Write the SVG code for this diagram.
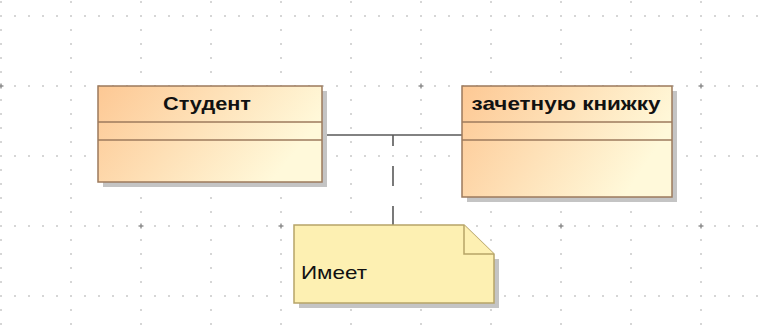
<svg xmlns="http://www.w3.org/2000/svg" width="760" height="336" viewBox="0 0 760 336">
  <defs>
    <!-- dotted drawing grid: 70px cells, dots every 14px along the cell edges -->
    <pattern id="grid" x="0" y="15" width="70" height="70" patternUnits="userSpaceOnUse">
      <g fill="#ababab">
        <rect x="0.3" y="0.3" width="1.4" height="1.4"/>
        <rect x="14.3" y="0.3" width="1.4" height="1.4"/>
        <rect x="28.3" y="0.3" width="1.4" height="1.4"/>
        <rect x="42.3" y="0.3" width="1.4" height="1.4"/>
        <rect x="56.3" y="0.3" width="1.4" height="1.4"/>
        <rect x="0.3" y="14.3" width="1.4" height="1.4"/>
        <rect x="0.3" y="28.3" width="1.4" height="1.4"/>
        <rect x="0.3" y="42.3" width="1.4" height="1.4"/>
        <rect x="0.3" y="56.3" width="1.4" height="1.4"/>
      </g>
    </pattern>
    <linearGradient id="classFill" x1="0" y1="0" x2="1" y2="0.35">
      <stop offset="0" stop-color="#fdc894"/>
      <stop offset="1" stop-color="#fff9da"/>
    </linearGradient>
    <g id="plus" fill="#8c8c8c">
      <rect x="-2.5" y="-0.7" width="5" height="1.4"/>
      <rect x="-0.7" y="-2.5" width="1.4" height="5"/>
    </g>
  </defs>
  <style>
    .shadow { fill: #c4c4c4; }
    .cls { fill: url(#classFill); stroke: #9c7a5c; stroke-width: 1.5; }
    .sep { stroke: #9c7a5c; stroke-width: 1.5; fill: none; }
    .title { font-family: "Liberation Sans", Arial, sans-serif; font-weight: bold; font-size: 18.5px; fill: #111; text-anchor: middle; }
    .note { fill: #fdf0b2; stroke: #b6a468; stroke-width: 1.5; }
    .noteText { font-family: "Liberation Sans", Arial, sans-serif; font-size: 18.5px; fill: #111; }
    .assoc { stroke: #595959; stroke-width: 1.3; fill: none; }
    .anchor { stroke: #595959; stroke-width: 1.6; fill: none; stroke-dasharray: 20 20; }
  </style>

  <rect width="760" height="336" fill="#ffffff"/>
  <rect width="760" height="336" fill="url(#grid)"/>
  <g id="grid-marks">
    <use href="#plus" x="1" y="86"/>
    <use href="#plus" x="421" y="86"/>
    <use href="#plus" x="701" y="86"/>
    <use href="#plus" x="141" y="226"/>
    <use href="#plus" x="281" y="226"/>
    <use href="#plus" x="561" y="226"/>
    <use href="#plus" x="701" y="226"/>
  </g>

  <g id="connectors">
    <line class="assoc" x1="322" y1="135" x2="462" y2="135"/>
    <line class="anchor" x1="393" y1="226" x2="393" y2="135"/>
  </g>

  <g id="student">
    <rect class="shadow" x="103" y="91" width="224" height="96"/>
    <rect class="cls" x="98" y="86" width="224" height="96"/>
    <line class="sep" x1="98" y1="122" x2="322" y2="122"/>
    <line class="sep" x1="98" y1="140" x2="322" y2="140"/>
    <text class="title" x="207" y="110" textLength="88" lengthAdjust="spacingAndGlyphs">Студент</text>
  </g>

  <g id="record-book">
    <rect class="shadow" x="467" y="91" width="210" height="111"/>
    <rect class="cls" x="462" y="86" width="210" height="111"/>
    <line class="sep" x1="462" y1="122" x2="672" y2="122"/>
    <line class="sep" x1="462" y1="140" x2="672" y2="140"/>
    <text class="title" x="566" y="110" textLength="189" lengthAdjust="spacingAndGlyphs">зачетную книжку</text>
  </g>

  <g id="note">
    <path class="shadow" d="M499,259 V308 H299 V303 H494 V259 Z"/>
    <path class="note" d="M294,225 H464 L494,254 V303 H294 Z"/>
    <path class="note" d="M464,225 V254 H494"/>
    <text class="noteText" x="301" y="279" textLength="66" lengthAdjust="spacingAndGlyphs">Имеет</text>
  </g>
</svg>
